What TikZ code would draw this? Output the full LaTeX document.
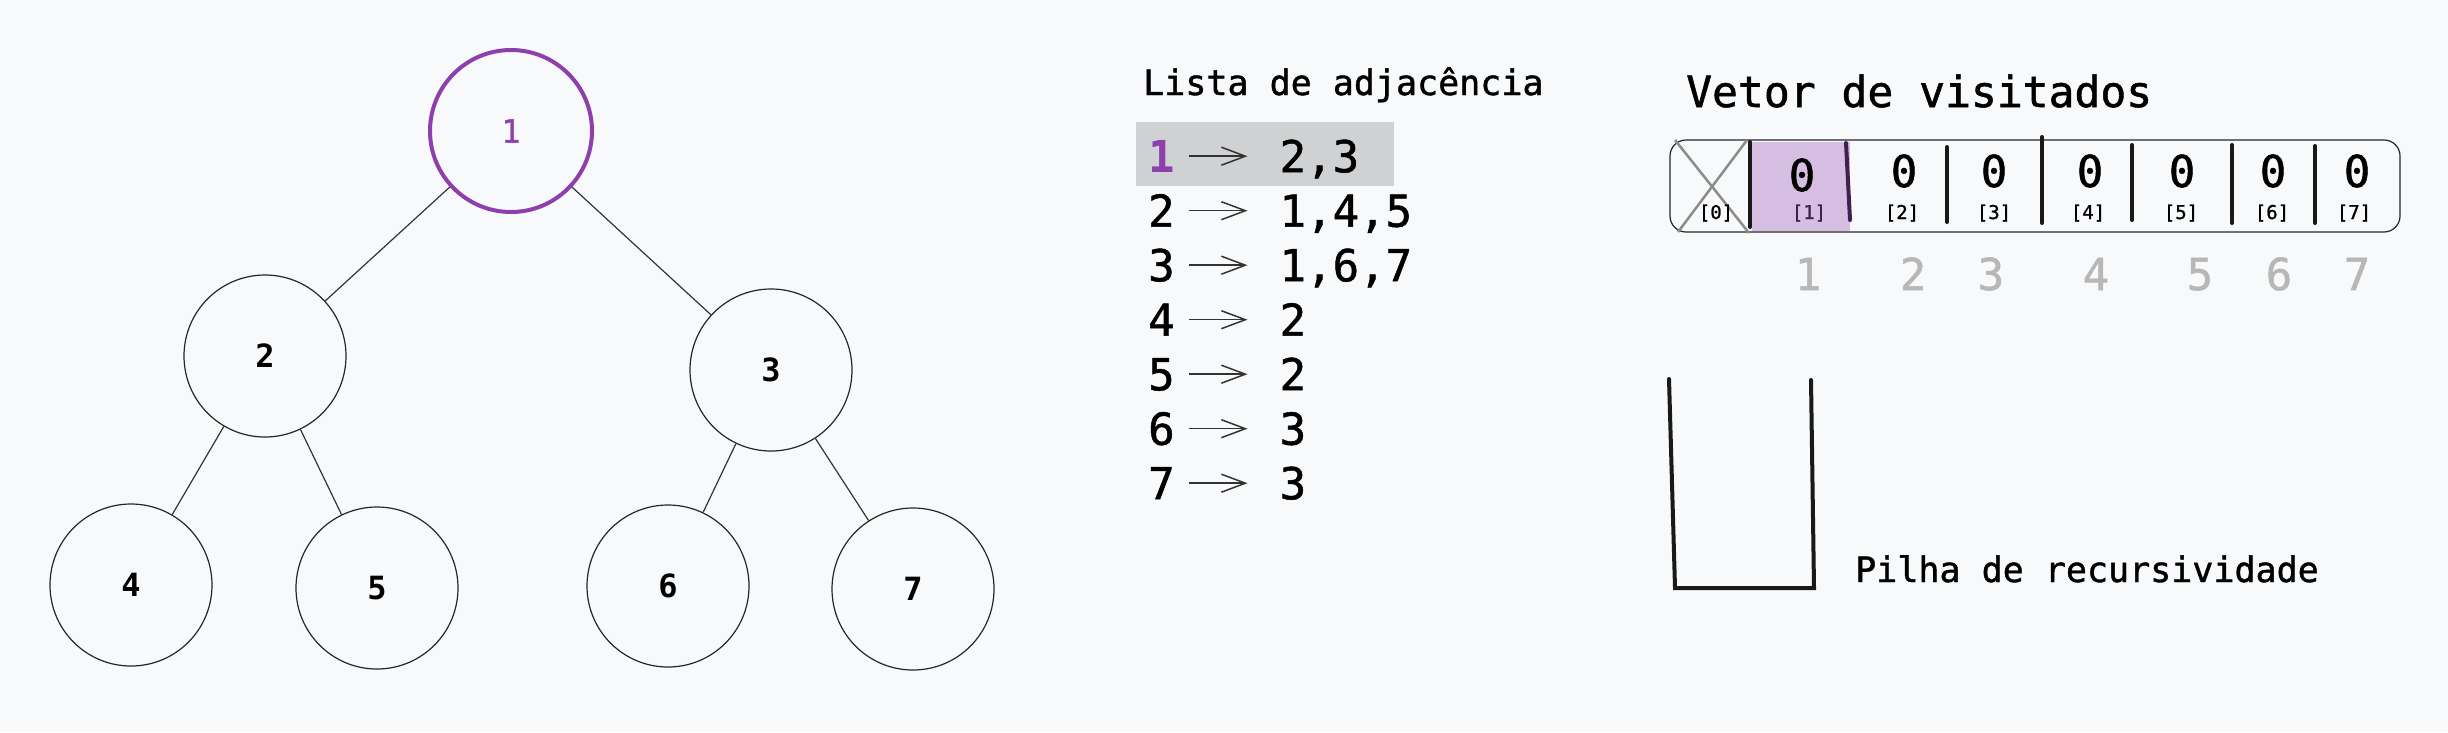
\documentclass[tikz,border=0pt]{standalone}
\usepackage{fontspec}
\setmonofont{DejaVu Sans Mono}
\newfontfamily\mediamono{DejaVu Sans Mono}[FakeBold=1.2]
\usetikzlibrary{matrix,arrows.meta}
\definecolor{fundo}{HTML}{F8F9FA}
\definecolor{roxo}{HTML}{8E3FAE}
\definecolor{roxoesc}{HTML}{3F2150}
\definecolor{lilas}{HTML}{D6BEE2}
\definecolor{cinzafx}{HTML}{D0D1D3}
\definecolor{cinzanum}{HTML}{B7B7B7}
\definecolor{cinzax}{HTML}{8C8C8C}
\newcommand{\fs}[1]{\mediamono\fontsize{#1}{#1}\selectfont}

\begin{document}
\begin{tikzpicture}[x=1pt,y=-1pt,ampersand replacement=\&,
  vert/.style={circle,draw=black!85,line width=1.2pt,minimum size=162pt,inner sep=0pt,font=\ttfamily\bfseries\fontsize{32}{32}\selectfont},
  aresta/.style={draw=black!80,line width=1.2pt},
  seta/.style={-{Straight Barb[length=24pt,width=18pt]},line width=1.5pt,black!80,shorten <=14pt,shorten >=32pt},
  divisor/.style={line width=4pt,line cap=round,black!90},
  valor/.style={anchor=base,inner sep=0pt,font=\fs{44}},
  indice/.style={anchor=base,inner sep=0pt,font=\fs{19}},
  posicao/.style={anchor=base,inner sep=0pt,text=cinzanum,font=\fs{44}}]
\useasboundingbox[fill=fundo] (0,0) rectangle (2448,732);

% arvore
\node[vert,draw=roxo,line width=4pt,text=roxo,font=\fs{32}] (n1) at (511,131) {1};
\node[vert] (n2) at (265,356) {2};
\node[vert] (n3) at (771,370) {3};
\node[vert] (n4) at (131,585) {4};
\node[vert] (n5) at (377,588) {5};
\node[vert] (n6) at (668,586) {6};
\node[vert] (n7) at (913,589) {7};
\path[aresta] (n1) edge (n2) edge (n3)
  (n2) edge (n4) edge (n5)
  (n3) edge (n6) edge (n7);

% lista de adjacencia
\node[anchor=base west,inner sep=0pt,font=\fs{35}] (tadj) at (1143,95) {Lista de adjacência};
\fill[cinzafx] (1136,122) rectangle (1394,186);
\matrix(adj)[matrix of nodes,anchor=north west,inner sep=0pt,column sep=105pt,row sep=12.5pt,
  nodes={inner sep=0pt,anchor=base west,text height=34pt,text depth=8pt,font=\fs{44}}] at (1148,138)
{ {\color{roxo}\ttfamily\bfseries 1} \& 2,3 \\
  2 \& 1,4,5 \\
  3 \& 1,6,7 \\
  4 \& 2 \\
  5 \& 2 \\
  6 \& 3 \\
  7 \& 3 \\};
\foreach \i in {1,...,7}
  \path[seta] ([yshift=3pt]adj-\i-1.east) edge ([yshift=3pt]adj-\i-2.west);

% vetor de visitados
\node[anchor=base west,inner sep=0pt,font=\fs{43}] (tvet) at (1686,107) {Vetor de visitados};
\fill[lilas] (1752,142) rectangle (1850,231);
\node[draw=black!85,line width=1.2pt,rounded corners=16pt,minimum width=730pt,minimum height=92pt] (vetor) at (2035,186) {};
\draw[cinzax,line width=2.5pt] (1675,140) -- (1749,233) (1747,140) -- (1678,232);
\foreach \x/\t/\b in {1750/142/227,1947/147/222,2042/137/223,2132/145/220,2232/145/223,2315/146/223}
  \draw[divisor] (\x,\t) -- (\x,\b);
\draw[divisor,roxoesc] (1846,143) -- (1850,220);
\foreach \k/\x/\y in {1/1802/191,2/1904/187,3/1994/187,4/2090/187,5/2182/187,6/2273/187,7/2357/187}
  \node[valor] (v\k) at (\x,\y) {0};
\node[indice] (i0) at (1716,219) {[0]};
\node[indice,text=roxoesc] (i1) at (1809,219) {[1]};
\foreach \k/\x in {2/1902,3/1994,4/2088,5/2181,6/2272,7/2354}
  \node[indice] (i\k) at (\x,219) {[\k]};
\foreach \k/\x in {1/1808,2/1913,3/1991,4/2096,5/2200,6/2279,7/2357}
  \node[posicao] (p\k) at (\x,290) {\k};

% pilha
\coordinate (ps-e) at (1669,379);
\coordinate (pi-e) at (1675,588);
\coordinate (pi-d) at (1814,588);
\coordinate (ps-d) at (1811,380);
\draw[divisor] (ps-e) -- (pi-e) -- (pi-d) -- (ps-d);
\node[anchor=base west,inner sep=0pt,font=\fs{35}] (tpilha) at (1855,582) {Pilha de recursividade};
\end{tikzpicture}
\end{document}
